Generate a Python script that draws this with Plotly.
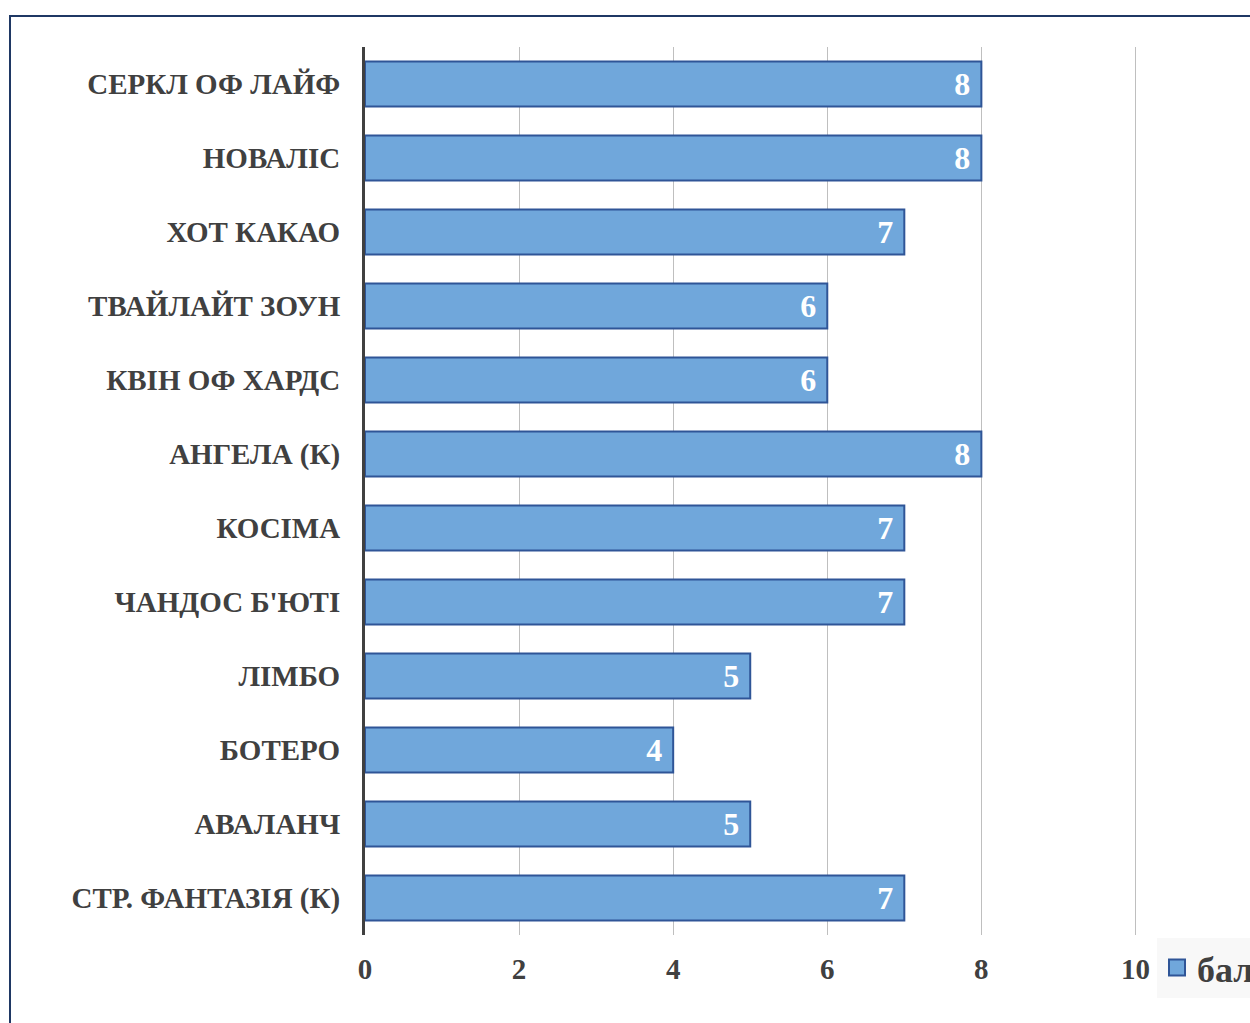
import plotly.graph_objects as go

categories = ["СЕРКЛ ОФ ЛАЙФ", "НОВАЛІС", "ХОТ КАКАО", "ТВАЙЛАЙТ ЗОУН", "КВІН ОФ ХАРДС",
              "АНГЕЛА (К)", "КОСІМА", "ЧАНДОС Б'ЮТІ", "ЛІМБО", "БОТЕРО", "АВАЛАНЧ",
              "СТР. ФАНТАЗІЯ (К)"]
values = [8, 8, 7, 6, 6, 8, 7, 7, 5, 4, 5, 7]
series_name = "бали"
x_ticks = [0, 2, 4, 6, 8, 10]

FONT = "Liberation Serif, Times New Roman, serif"
FILL = "#70A7DB"
EDGE = "#2F5597"

fig = go.Figure()
fig.add_trace(go.Bar(
    y=categories, x=values, orientation="h", name=series_name,
    marker=dict(color=FILL, line=dict(color=EDGE, width=2)),
    width=0.61,
    text=[str(v) + "\u00a0" for v in values], textposition="inside", insidetextanchor="end",
    textfont=dict(family=FONT, size=32, color="white", weight="bold"),
    showlegend=False, legendgroup="s",
))
# legend entry for the same series (larger square symbol)
fig.add_trace(go.Scatter(
    x=[None], y=[None], mode="markers", name=series_name, legendgroup="s",
    marker=dict(symbol="square", size=18, color=FILL, line=dict(color=EDGE, width=2)),
    showlegend=True,
))

fig.update_layout(
    width=1250, height=1023,
    margin=dict(l=365, r=113, t=47, b=88, autoexpand=False),
    paper_bgcolor="white", plot_bgcolor="white",
    font=dict(family=FONT, color="#404040"),
    bargap=0.39,
    xaxis=dict(range=[0, 10.02], tickvals=x_ticks, showgrid=True, gridcolor="#BFBFBF", gridwidth=1,
               zeroline=False, showline=False, ticks="", ticklabelstandoff=14,
               tickfont=dict(family=FONT, size=29, color="#404040", weight="bold")),
    yaxis=dict(categoryorder="array", categoryarray=categories, autorange="reversed",
               showline=True, linecolor="#404040", linewidth=3, ticks="", ticklen=0,
               ticklabelstandoff=16,
               tickfont=dict(family=FONT, size=29, color="#404040", weight="bold")),
    legend=dict(x=(1157 - 365) / (1137 - 365), y=-0.003, xanchor="left", yanchor="top",
                bgcolor="#F8F8F8", font=dict(family=FONT, size=36, color="#404040", weight="bold"),
                itemsizing="trace", itemwidth=30),
    shapes=[dict(type="rect", xref="paper", yref="paper",
                 x0=(10 - 365) / 772, x1=(1300 - 365) / 772,
                 y0=-(1100 - 935) / 888, y1=(935 - 16) / 888,
                 line=dict(color="#1F3864", width=2), fillcolor="rgba(0,0,0,0)", layer="below")],
)

fig.write_html("out.html")
